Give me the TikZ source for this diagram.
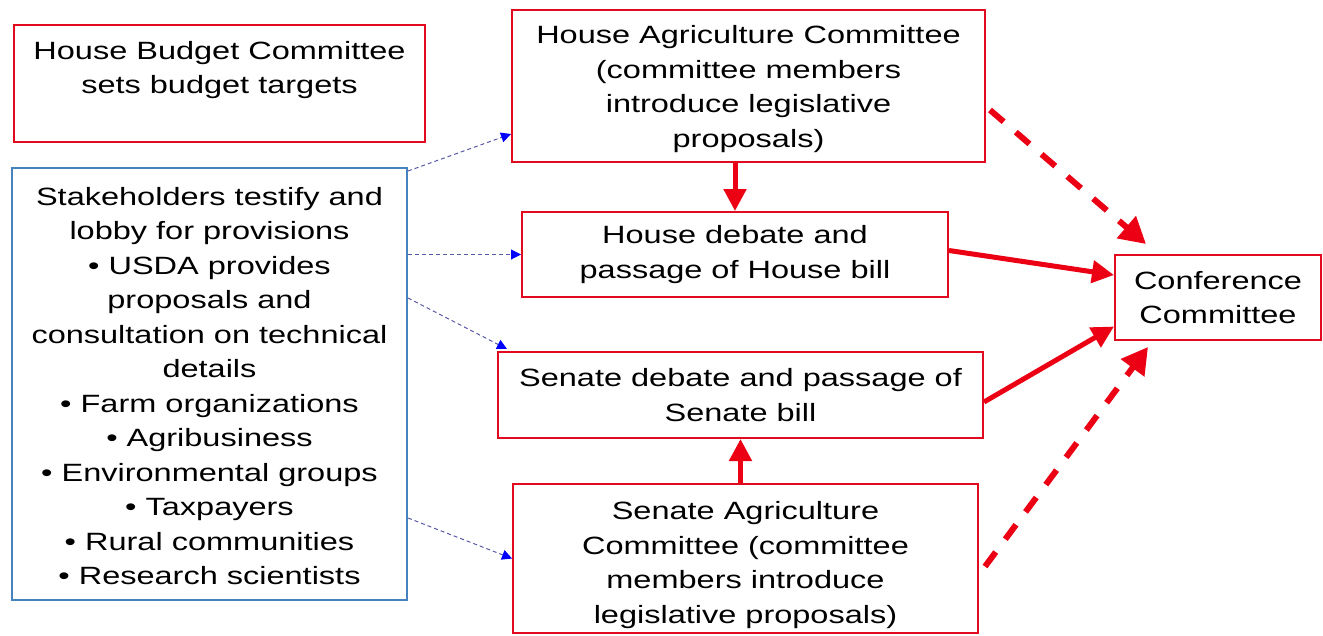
\documentclass[tikz,border=0pt]{standalone}
\usepackage{fontspec}
\setmainfont{Liberation Sans}[FakeStretch=1.3]
\usetikzlibrary{arrows.meta}
\definecolor{boxred}{RGB}{225,10,30}
\definecolor{boxblue}{RGB}{70,130,190}
\definecolor{arrred}{RGB}{235,0,20}
\tikzset{
  box/.style={draw=boxred, line width=2pt, inner sep=0pt, align=center,
    font=\fontsize{25}{34.5}\selectfont},
  bluebox/.style={box, draw=boxblue},
  txt/.style={inner sep=0pt, align=center, font=\fontsize{25}{34.5}\selectfont},
  dotarrow/.style={draw=gray!70!blue, line width=1pt, dash pattern=on 4pt off 3pt,
    -{Triangle[length=10pt,width=10pt,color=blue]}},
  solidarrow/.style={draw=arrred, line width=5pt,
    -{Triangle[length=22pt,width=22pt]}},
  dasharrow/.style={draw=arrred, line width=6pt, dash pattern=on 18pt off 16pt,
    -{Triangle[length=26pt,width=28pt]}}
}
\begin{document}
\begin{tikzpicture}[x=1pt,y=-1pt]
\useasboundingbox (0,0) rectangle (1323,635);
\node[box, minimum width=411pt, minimum height=117pt] (budget) at (219.5,83.5) {};
\node[txt] (budgettext) at (219.5,70) {House Budget Committee\\sets budget targets};
\node[bluebox, minimum width=395pt, minimum height=432pt] (stake) at (209.5,384) {};
\node[txt] (staketext) at (209.5,386)
  {Stakeholders testify and\\lobby for provisions\\• USDA provides\\proposals and\\consultation on technical\\details\\• Farm organizations\\• Agribusiness\\• Environmental groups\\• Taxpayers\\• Rural communities\\• Research scientists};
\node[box, minimum width=473pt, minimum height=152pt] (hag) at (748.5,86) {};
\node[txt] (hagtext) at (748.5,89)
  {House Agriculture Committee\\(committee members\\introduce legislative\\proposals)};
\node[box, minimum width=426pt, minimum height=85pt] (hdeb) at (735,254.5)
  {House debate and\\passage of House bill};
\node[box, minimum width=485pt, minimum height=86pt] (sdeb) at (740.5,395)
  {Senate debate and passage of\\Senate bill};
\node[box, minimum width=465pt, minimum height=149pt] (sag) at (745.5,558.5) {};
\node[txt] (sagtext) at (745.5,565)
  {Senate Agriculture\\Committee (committee\\members introduce\\legislative proposals)};
\node[box, minimum width=206pt, minimum height=85pt] (conf) at (1218,297.5)
  {Conference\\Committee};
% stakeholder arrows
\draw[dotarrow] ([yshift=-4pt]stake.north east) -- ([yshift=29pt]hag.south west);
\draw[dotarrow] (stake.east |- hdeb.west) -- (hdeb.west);
\draw[dotarrow] ([yshift=86pt]stake.east) -- ([xshift=10pt,yshift=2pt]sdeb.north west);
\draw[dotarrow] ([yshift=-134pt]stake.east) -- (sag.west);
% red arrows
\draw[solidarrow] (hdeb.north |- hag.south) -- (hdeb.north);
\draw[solidarrow] (sdeb.south |- sag.north) -- (sdeb.south);
\draw[solidarrow] ([yshift=4pt]hdeb.east) -- ([yshift=22.5pt]conf.west);
\draw[solidarrow] ([yshift=-7pt]sdeb.east) -- ([yshift=-29pt]conf.west);
\draw[dasharrow] ([xshift=4pt,yshift=-24pt]hag.east) -- ([xshift=32pt,yshift=10pt]conf.north west);
\draw[dasharrow] ([xshift=6pt,yshift=-8pt]sag.east) -- ([xshift=34pt,yshift=-6pt]conf.south west);
\end{tikzpicture}
\end{document}
